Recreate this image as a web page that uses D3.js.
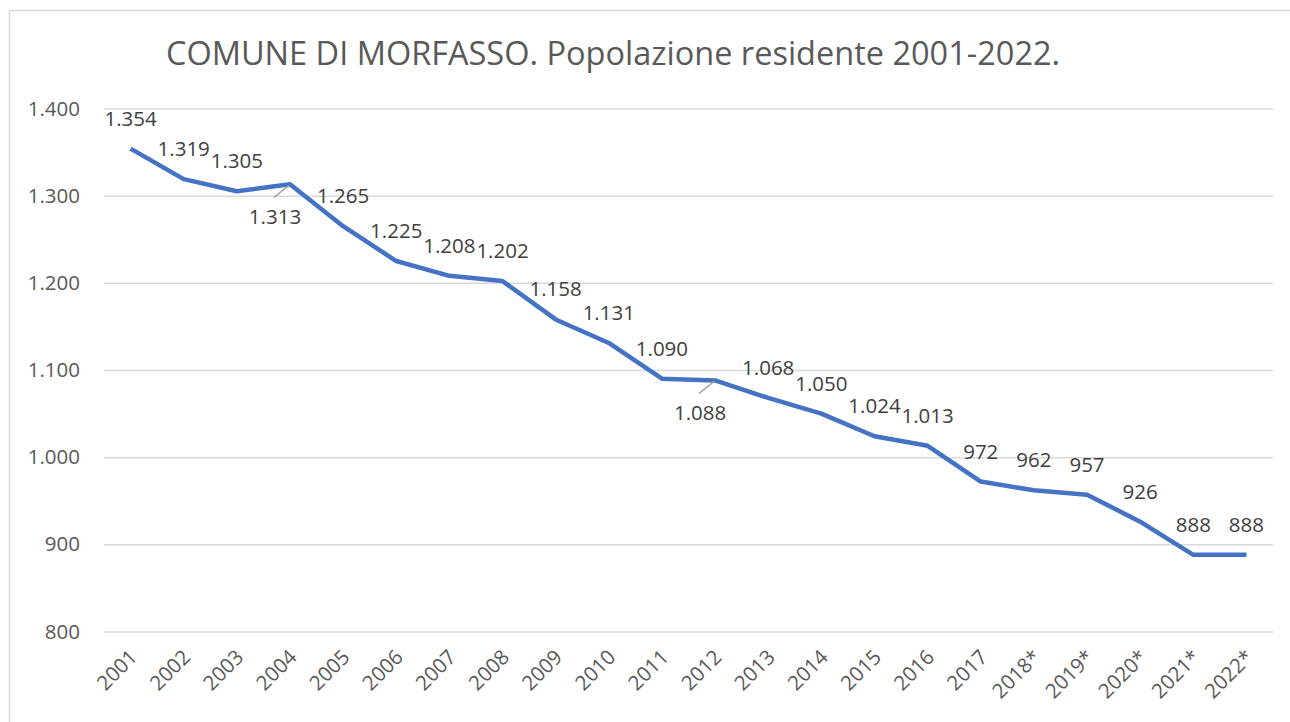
<!DOCTYPE html>
<html><head><meta charset="utf-8">
<script src="https://cdn.jsdelivr.net/npm/d3@7"></script>
<style>body{margin:0;background:#fff}svg{display:block}</style>
</head><body>
<svg id="c" width="1290" height="722"></svg>
<script>
const categories = ["2001","2002","2003","2004","2005","2006","2007","2008","2009","2010","2011","2012","2013","2014","2015","2016","2017","2018*","2019*","2020*","2021*","2022*"];
const population = [1354,1319,1305,1313,1265,1225,1208,1202,1158,1131,1090,1088,1068,1050,1024,1013,972,962,957,926,888,888];
const yTicks = [800,900,1000,1100,1200,1300,1400];
const belowLabels = ["2004","2012"];
const title = "COMUNE DI MORFASSO. Popolazione residente 2001-2022.";

const svg = d3.select("#c");
const font = "'Open Sans', sans-serif";
const txt = "#595959";
const fmt = v => d3.format(",")(v).replace(/,/g, ".");

svg.append("rect").attr("x",9.5).attr("y",10.5).attr("width",1300).attr("height",730)
  .attr("fill","#fff").attr("stroke","#d9d9d9").attr("stroke-width",1.5);

const x = d3.scaleBand().domain(categories).range([104,1273]);
const y = d3.scaleLinear().domain([800,1400]).range([631.5,108.5]);
const cx = d => x(d) + x.bandwidth()/2;

const yAxis = d3.axisLeft(y).tickValues(yTicks).tickFormat(fmt).tickSize(-(1273-104)).tickPadding(24);
const gy = svg.append("g").attr("transform","translate(104,0)").call(yAxis);
gy.select(".domain").remove();
gy.selectAll(".tick line").attr("stroke","#d9d9d9").attr("stroke-width",1.5);
gy.selectAll(".tick text").attr("fill",txt).style("font-family",font).style("font-size","20.5px");

const xAxis = d3.axisBottom(x).tickSize(0).tickPadding(0);
const gx = svg.append("g").attr("transform","translate(0,631.5)").call(xAxis);
gx.select(".domain").remove();
gx.selectAll(".tick text")
  .attr("fill",txt).style("font-family",font).style("font-size","20.5px")
  .attr("text-anchor","end").attr("dy",0).attr("y",0)
  .attr("transform","translate(8,27) rotate(-45)");

const line = d3.line().x((d,i)=>cx(categories[i])).y(d=>y(d));
svg.append("path").datum(population).attr("d",line).attr("fill","none")
  .attr("stroke","#4472C4").attr("stroke-width",4.5).attr("stroke-linejoin","round");

const lab = svg.append("g");
categories.forEach((c,i)=>{
  const px = cx(c), py = y(population[i]);
  const below = belowLabels.includes(c);
  if (below) {
    lab.append("line").attr("x1",px-16).attr("y1",py+13).attr("x2",px-1).attr("y2",py+1)
      .attr("stroke","#a6a6a6").attr("stroke-width",1.5);
  }
  lab.append("text").attr("x", below ? px-15 : px).attr("y", below ? py+32 : py-31)
    .attr("text-anchor","middle").attr("dominant-baseline","central")
    .attr("fill","#404040").style("font-family",font).style("font-size","20.5px")
    .text(fmt(population[i]));
});

svg.append("text").attr("x",613).attr("y",52).attr("text-anchor","middle")
  .attr("dominant-baseline","central").attr("fill",txt)
  .style("font-family",font).style("font-size","32.5px").text(title);
</script>
</body></html>
